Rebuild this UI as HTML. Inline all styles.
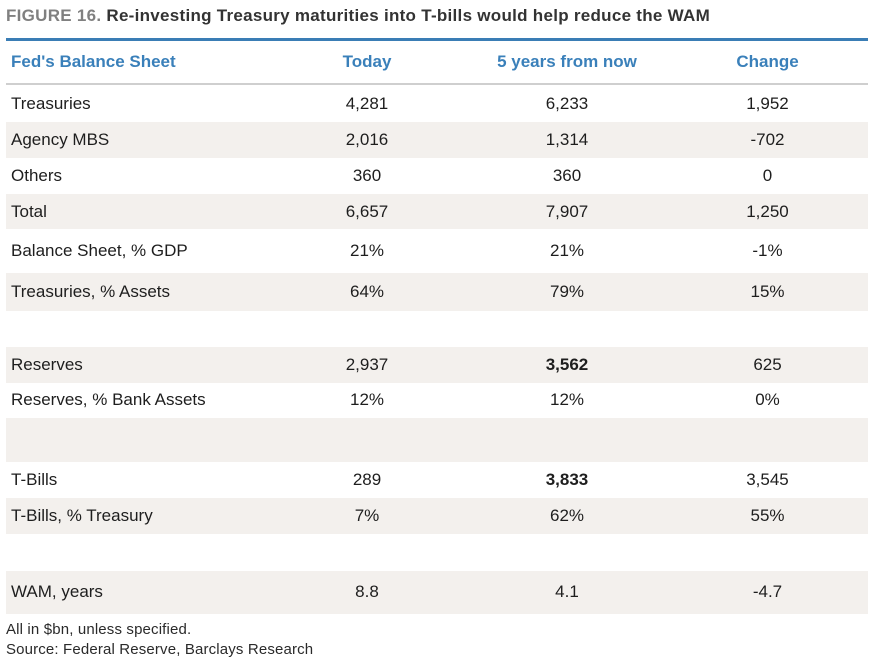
<!DOCTYPE html>
<html>
<head>
<meta charset="utf-8">
<style>
  html, body { margin:0; padding:0; background:#fff; }
  body { width:874px; height:664px; position:relative; overflow:hidden;
         font-family:"Liberation Sans", Arial, sans-serif; color:#1e1e1e; }
  .title { position:absolute; left:6px; top:4px; font-size:17px; font-weight:bold;
           letter-spacing:0.28px; white-space:nowrap; line-height:24px; color:#333; }
  .title .fig { color:#808080; }
  .blue { position:absolute; left:6px; width:862px; top:38px; height:3px; background:#3a7db5; }
  .grey { position:absolute; left:6px; width:862px; top:83px; height:2px; background:#cfcfcf; }
  .row { position:absolute; left:6px; width:862px; font-size:17px; }
  .row.s { background:#f3f0ed; }
  .row div { position:absolute; top:0; height:100%; white-space:nowrap; }
  .c0 { left:5px; }
  .c1 { left:261px; width:200px; text-align:center; }
  .c2 { left:461px; width:200px; text-align:center; }
  .c3 { left:661px; width:201px; text-align:center; }
  .hdr { color:#3a80ba; font-weight:bold; }
  b { font-weight:bold; }
  .foot { position:absolute; left:6px; font-size:15px; color:#2a2a2a; white-space:nowrap; letter-spacing:0.15px; }
</style>
</head>
<body>
<div class="title"><span class="fig">FIGURE 16.</span> Re-investing Treasury maturities into T-bills would help reduce the WAM</div>
<div class="blue"></div>

<div class="row hdr" style="top:41px;height:42px;line-height:42px;">
  <div class="c0">Fed's Balance Sheet</div><div class="c1">Today</div><div class="c2">5 years from now</div><div class="c3">Change</div>
</div>
<div class="grey"></div>

<div class="row" style="top:85px;height:37px;line-height:37px;">
  <div class="c0">Treasuries</div><div class="c1">4,281</div><div class="c2">6,233</div><div class="c3">1,952</div>
</div>
<div class="row s" style="top:122px;height:36px;line-height:36px;">
  <div class="c0">Agency MBS</div><div class="c1">2,016</div><div class="c2">1,314</div><div class="c3">-702</div>
</div>
<div class="row" style="top:158px;height:36px;line-height:36px;">
  <div class="c0">Others</div><div class="c1">360</div><div class="c2">360</div><div class="c3">0</div>
</div>
<div class="row s" style="top:194px;height:35px;line-height:35px;">
  <div class="c0">Total</div><div class="c1">6,657</div><div class="c2">7,907</div><div class="c3">1,250</div>
</div>
<div class="row" style="top:229px;height:44px;line-height:43px;">
  <div class="c0">Balance Sheet, % GDP</div><div class="c1">21%</div><div class="c2">21%</div><div class="c3">-1%</div>
</div>
<div class="row s" style="top:273px;height:38px;line-height:37px;">
  <div class="c0">Treasuries, % Assets</div><div class="c1">64%</div><div class="c2">79%</div><div class="c3">15%</div>
</div>
<div class="row" style="top:311px;height:36px;"></div>
<div class="row s" style="top:347px;height:36px;line-height:35px;">
  <div class="c0">Reserves</div><div class="c1">2,937</div><div class="c2"><b>3,562</b></div><div class="c3">625</div>
</div>
<div class="row" style="top:383px;height:35px;line-height:34px;">
  <div class="c0">Reserves, % Bank Assets</div><div class="c1">12%</div><div class="c2">12%</div><div class="c3">0%</div>
</div>
<div class="row s" style="top:418px;height:44px;"></div>
<div class="row" style="top:462px;height:36px;line-height:35px;">
  <div class="c0">T-Bills</div><div class="c1">289</div><div class="c2"><b>3,833</b></div><div class="c3">3,545</div>
</div>
<div class="row s" style="top:498px;height:36px;line-height:35px;">
  <div class="c0">T-Bills, % Treasury</div><div class="c1">7%</div><div class="c2">62%</div><div class="c3">55%</div>
</div>
<div class="row" style="top:534px;height:37px;"></div>
<div class="row s" style="top:571px;height:43px;line-height:42px;">
  <div class="c0">WAM, years</div><div class="c1">8.8</div><div class="c2">4.1</div><div class="c3">-4.7</div>
</div>

<div class="foot" style="top:620px;line-height:20px;">All in $bn, unless specified.</div>
<div class="foot" style="top:640px;line-height:20px;">Source: Federal Reserve, Barclays Research</div>
</body>
</html>
